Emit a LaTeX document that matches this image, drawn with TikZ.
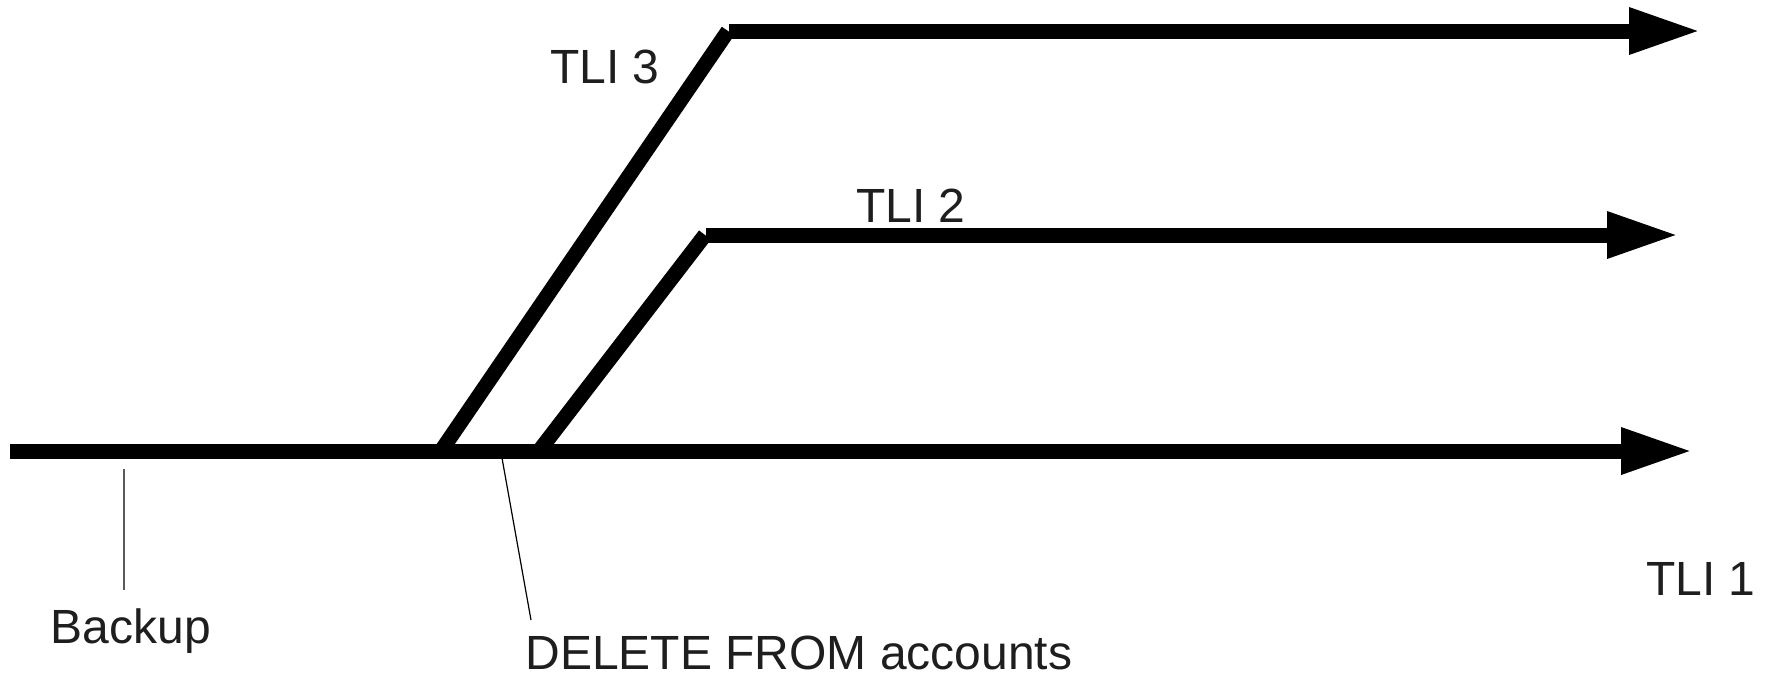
\documentclass[tikz,border=0pt]{standalone}
\usepackage{fontspec}
\setmainfont{Liberation Sans}
\usetikzlibrary{arrows.meta}
\definecolor{labelgray}{HTML}{1E1E1E}
\tikzset{
  timeline/.style={line width=7.5pt, draw=black, line cap=butt},
  branch/.style={timeline, -{Triangle[length=36pt, width=21.5pt]}},
  leader/.style={line width=0.6pt, draw=#1},
  tlabel/.style={anchor=base, inner sep=0pt, text=labelgray, font=\fontsize{24}{29}\selectfont}
}
\begin{document}
\begin{tikzpicture}[x=0.5pt, y=-0.5pt]
  \useasboundingbox (0,0) rectangle (1766,676);

  % timeline 1 (the main history)
  \coordinate (s1) at (10,451);
  \coordinate (e1) at (1693,451);
  % timeline 2 branches off after the backup
  \coordinate (b2) at (539,451);
  \coordinate (t2) at (705,235);
  \coordinate (h2) at (706,235);
  \coordinate (e2) at (1679,235);
  % timeline 3 branches off earlier
  \coordinate (b3) at (441,451);
  \coordinate (t3) at (728,31);
  \coordinate (h3) at (729,31);
  \coordinate (e3) at (1701,31);

  \draw[branch] (s1) -- (e1);
  \draw[timeline] (b3) -- (t3);
  \draw[branch] (h3) -- (e3);
  \draw[timeline] (b2) -- (t2);
  \draw[branch] (h2) -- (e2);

  % labels
  \node[tlabel] (tli3) at (605,83) {TLI 3};
  \node[tlabel] (tli2) at (911,222) {TLI 2};
  \node[tlabel] (tli1) at (1701,595) {TLI 1};
  \node[tlabel] (backup) at (131,643) {Backup};
  \node[tlabel, anchor=base west, text depth=0pt] (delete) at (525,669) {DELETE FROM accounts};

  % leader lines from the events to their labels
  \coordinate (bk) at (124,469);
  \coordinate (bkend) at (124,590);
  \coordinate (dl) at (502,458);
  \coordinate (dlend) at (531,620);
  \draw[leader=black!65] (bk) -- (bkend);
  \draw[leader=black] (dl) -- (dlend);
\end{tikzpicture}
\end{document}
